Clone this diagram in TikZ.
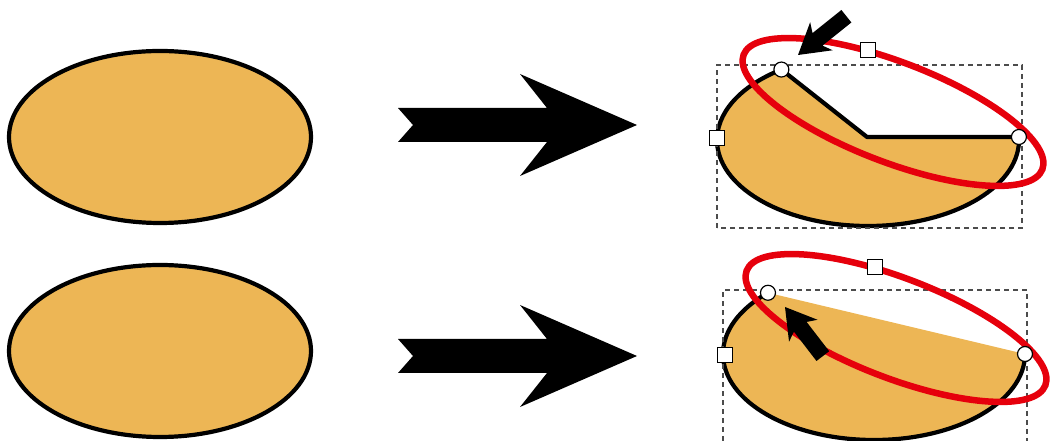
\documentclass[tikz,border=0pt]{standalone}
\usetikzlibrary{positioning,calc}
\definecolor{potatofill}{HTML}{EDB655}
\definecolor{ringred}{HTML}{E6000C}
\tikzset{blob/.style={fill=potatofill, draw=black, line width=4.2pt, line join=round}}
\tikzset{selbox/.style={draw=black!70, dash pattern=on 5pt off 4pt, line width=1.1pt}}
\tikzset{ring/.style={draw=ringred, line width=6.5pt}}
\tikzset{knot/.style={circle, draw, fill=white, line width=1.2pt, minimum size=15pt, inner sep=0pt}}
\tikzset{grip/.style={rectangle, draw, fill=white, line width=1.2pt, minimum size=15pt, inner sep=0pt}}
\tikzset{fatarrow/.pic={\fill (0,17) -- (149,17) -- (122,51) -- (239,0) -- (122,-51) -- (149,-17) -- (0,-17) -- (15,0) -- cycle;}}
\tikzset{pointer/.pic={\fill (0,0) -- (-30,18) -- (-25,8) -- (-62,8) -- (-62,-8) -- (-25,-8) -- (-30,-18) -- cycle;}}
\begin{document}
\begin{tikzpicture}[x=1pt, y=1pt]
	\useasboundingbox (0,0) rectangle (1053,441);
	% plain ellipses and the two arrows
	\draw[blob] (160,304) ellipse [x radius=151, y radius=86];
	\draw[blob] (160,90) ellipse [x radius=151, y radius=86];
	\pic at (398,316) {fatarrow};
	\pic at (398,85) {fatarrow};
	%
	% top right: node dragged inwards
	\coordinate (tc) at (868,301);
	\coordinate (ta) at ($(tc)+(125:151 and 86)$);
	\coordinate (tb) at (867,304);
	\coordinate (te) at ($(tc)+(2:151 and 86)$);
	\draw[blob] (ta) -- (tb) -- (te)
		arc[start angle=2, end angle=-235, x radius=151, y radius=86] -- cycle;
	\draw[selbox] (717,213) rectangle (1022,376);
	\draw[ring, rotate around={-21:(893,329)}] (893,329) ellipse [x radius=160, y radius=50];
	\node[knot] (ka) at (ta) {};
	\node[knot] (ke) at (te) {};
	\node[grip] (gt) at (868,391) {};
	\node[grip] (gl) at (717,303) {};
	\pic[rotate=218.7] at (798,386) {pointer};
	%
	% bottom right: straight segment, no stroke
	\coordinate (bc) at (874,87);
	\coordinate (bd) at ($(bc)+(134.6:151 and 86)$);
	\coordinate (be) at ($(bc)+(0:151 and 86)$);
	\fill[potatofill] (bd) -- (be)
		arc[start angle=0, end angle=-225.4, x radius=151, y radius=86] -- cycle;
	\draw[line width=4.2pt] (be) arc[start angle=0, end angle=-225.4, x radius=151, y radius=86];
	\draw[selbox] (723,0) |- (1027,151) -- (1027,0);
	\draw[ring, rotate around={-21:(896,113)}] (896,113) ellipse [x radius=160, y radius=50];
	\node[knot] (kd) at (bd) {};
	\node[knot] (kb) at (be) {};
	\node[grip] (gb) at (875,174) {};
	\node[grip] (gm) at (725,86) {};
	\pic[rotate=127.6] at (785,134) {pointer};
\end{tikzpicture}
\end{document}
